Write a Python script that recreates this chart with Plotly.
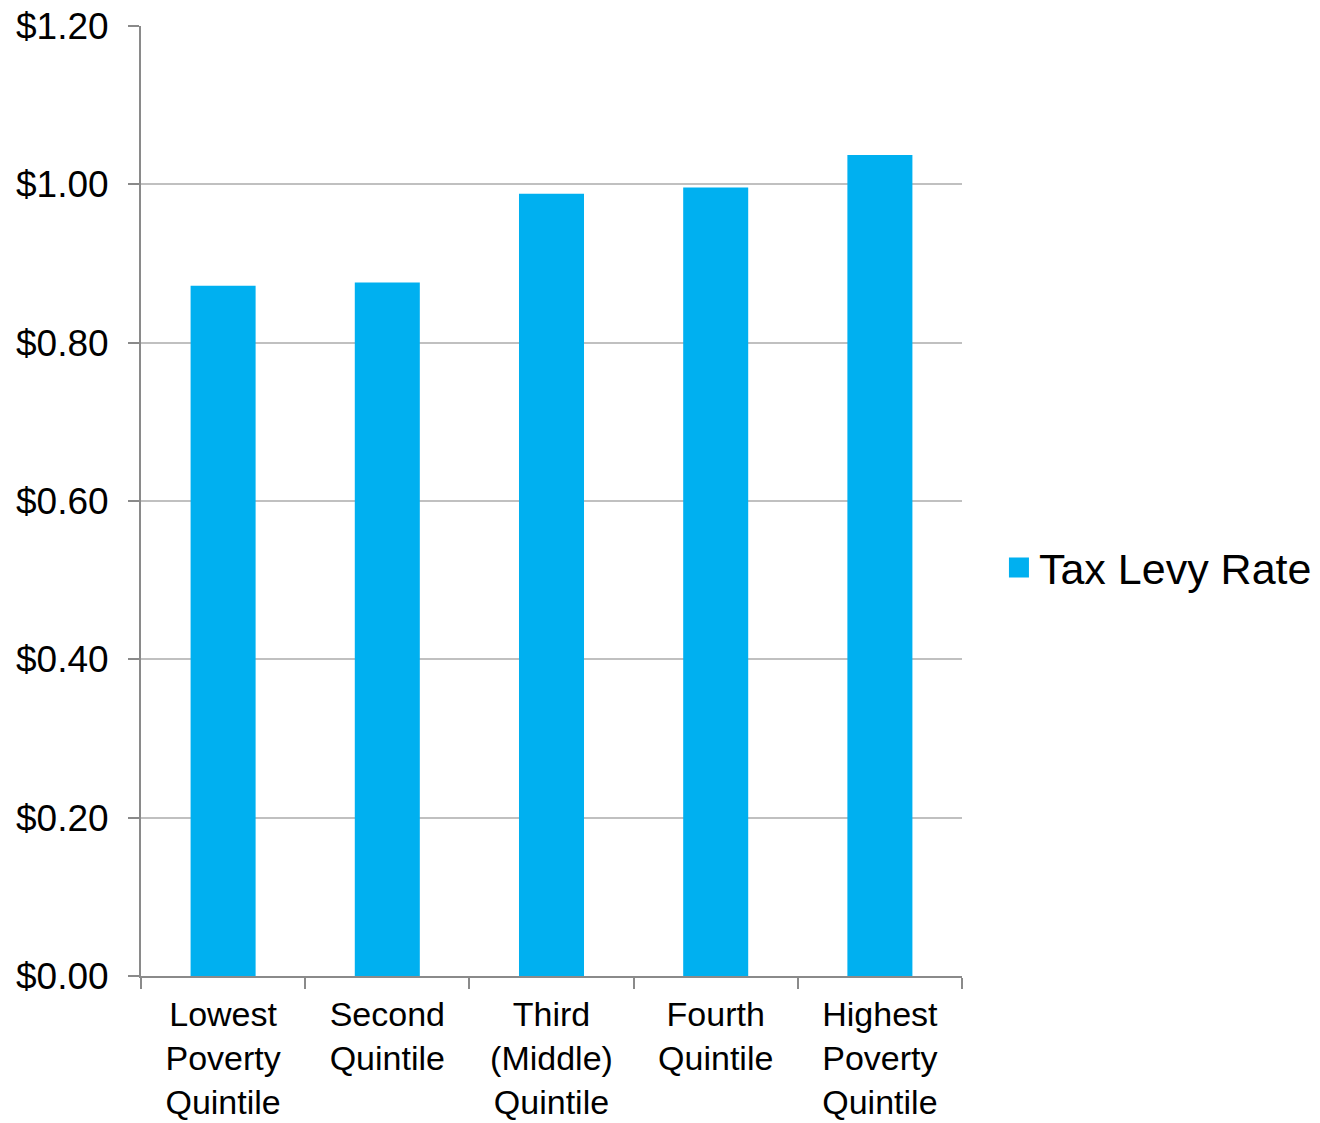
import plotly.graph_objects as go

categories = [
    "Lowest<br>Poverty<br>Quintile",
    "Second<br>Quintile",
    "Third<br>(Middle)<br>Quintile",
    "Fourth<br>Quintile",
    "Highest<br>Poverty<br>Quintile",
]
tax_levy_rate = [0.872, 0.876, 0.988, 0.996, 1.037]
y_ticks = [0.0, 0.2, 0.4, 0.6, 0.8, 1.0, 1.2]
y_tick_labels = ["$0.00", "$0.20", "$0.40", "$0.60", "$0.80", "$1.00", "$1.20"]

BAR_COLOR = "#00B0F0"
FONT = "Liberation Sans, Arial, sans-serif"

fig = go.Figure()
fig.add_trace(go.Bar(
    x=categories,
    y=tax_levy_rate,
    marker=dict(color=BAR_COLOR, line=dict(width=0)),
    showlegend=False,
))
# legend entry with a larger square swatch
fig.add_trace(go.Scatter(
    x=[None], y=[None],
    mode="markers",
    marker=dict(symbol="square", size=16, color=BAR_COLOR,
                line=dict(color=BAR_COLOR, width=4)),
    name="Tax Levy Rate",
))

fig.update_layout(
    width=1320,
    height=1123,
    margin=dict(l=141, r=358, t=26, b=147, autoexpand=False),
    paper_bgcolor="white",
    plot_bgcolor="white",
    font=dict(family=FONT, size=37, color="black"),
    bargap=0.604,
    legend=dict(
        x=1.045, y=0.43, xanchor="left", yanchor="middle",
        font=dict(size=43),
        itemwidth=30,
        bgcolor="rgba(0,0,0,0)",
    ),
)
fig.update_xaxes(
    showline=True, linecolor="#8a8a8a", linewidth=2,
    ticks="outside", tickson="boundaries", ticklen=11, tickcolor="#8a8a8a", tickwidth=2,
    showgrid=False,
    automargin=False,
    ticklabelstandoff=7,
    tickfont=dict(size=34),
)
fig.update_yaxes(
    range=[0, 1.2],
    tickvals=y_ticks, ticktext=y_tick_labels,
    showline=True, linecolor="#8a8a8a", linewidth=2,
    ticks="outside", ticklen=11, tickcolor="#8a8a8a", tickwidth=2,
    showgrid=True, gridcolor="#c0c0c0", gridwidth=2,
    zeroline=False,
    automargin=False,
    ticklabelstandoff=12,
    tickfont=dict(size=37),
)

fig.write_html("out.html")
